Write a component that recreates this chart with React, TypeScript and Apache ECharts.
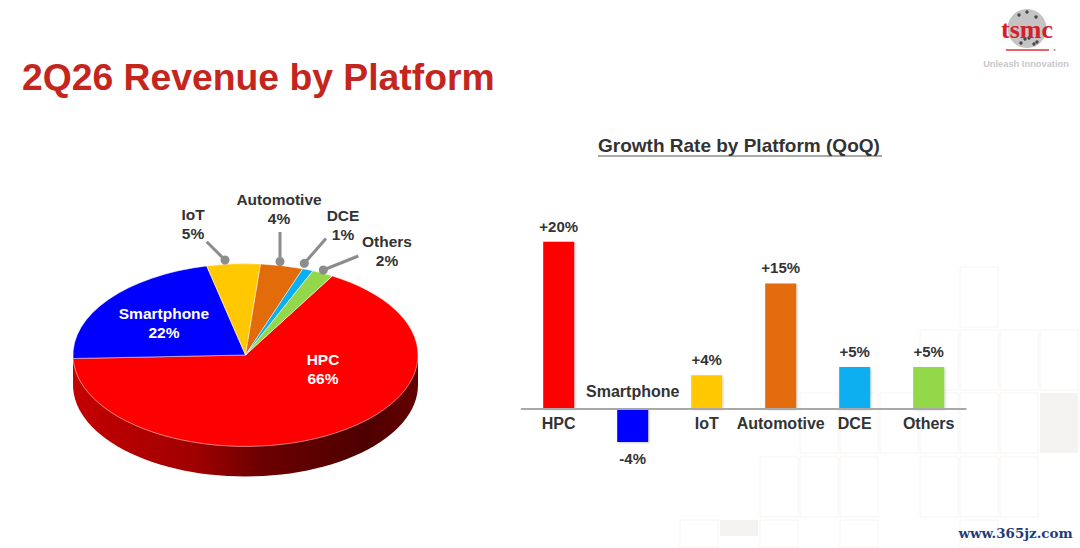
import React, { useEffect, useRef } from "react";
import * as echarts from "echarts";

const FONT = '"Liberation Sans", Arial, sans-serif';
const categories = ["HPC", "Smartphone", "IoT", "Automotive", "DCE", "Others"];
const revenueShare = [66, 22, 5, 4, 1, 2];
const growthRate = [20, -4, 4, 15, 5, 5];
const colors = ["#ff0000", "#0000ff", "#ffc800", "#e36c0a", "#0aaff0", "#92d84a"];

// Pie label layout: [centre x, y of the name line]
const labelAnchors = [
  [323, 359],
  [164, 313],
  [193, 214],
  [279, 199],
  [343, 215],
  [387, 241],
];
// Leader lines: [x1, y1, x2, y2], ending in a dot at (x2, y2)
const leaders: (number[] | null)[] = [
  null,
  null,
  [206.7, 241.7, 225, 260],
  [280, 232, 280, 261.5],
  [326, 238.5, 304.3, 263.3],
  [358.3, 256, 323.3, 270],
];

const PIE = { cx: 245.5, cy: 355, rx: 172.5, ry: 91.5, depth: 30, startDeg: 30.2 };

// Decorative background tiles: [y, height, x positions]
const tileRows: [number, number, number[]][] = [
  [267, 60, [960]],
  [330, 60, [920, 960, 1000, 1040]],
  [393, 60, [800, 840, 880, 920, 960, 1000]],
  [457, 60, [760, 800, 840, 920, 960, 1000]],
  [520, 28, [680, 760, 840, 960]],
];

function buildTiles(): any[] {
  const out: any[] = [];
  tileRows.forEach(([y, h, xs]) =>
    xs.forEach((x) =>
      out.push({
        type: "rect",
        z: 0,
        shape: { x, y, width: 38, height: h },
        style: { fill: "#ffffff", stroke: "#f7f5f3", lineWidth: 1 },
      })
    )
  );
  out.push({ type: "rect", z: 0, shape: { x: 1040, y: 393, width: 38, height: 60 }, style: { fill: "#f5f3f1" } });
  out.push({ type: "rect", z: 0, shape: { x: 720, y: 520, width: 38, height: 16 }, style: { fill: "#f5f3f1" } });
  return out;
}

const logoDots = [
  [1019, 15], [1027, 12], [1036, 17], [1021, 43], [1025, 39], [1029, 38], [1037, 42], [1034, 44],
];

function buildLogo(): any[] {
  return [
    { type: "circle", z: 1, shape: { cx: 1027, cy: 28.5, r: 19.5 }, style: { fill: "#c4c4c4" } },
    ...logoDots.map(([cx, cy]) => ({
      type: "circle",
      z: 1,
      shape: { cx, cy, r: 1.7 },
      style: { fill: "#4a4a4a" },
    })),
    {
      type: "text",
      z: 2,
      x: 1027,
      y: 29,
      style: {
        text: "tsmc",
        font: 'bold 26px "Liberation Serif", serif',
        fill: "#d3202a",
        align: "center",
        verticalAlign: "middle",
      },
    },
    { type: "line", z: 2, shape: { x1: 1006, y1: 50, x2: 1049, y2: 50 }, style: { stroke: "#e0303a", lineWidth: 1.5 } },
    { type: "circle", z: 2, shape: { cx: 1054.5, cy: 50, r: 1 }, style: { fill: "#999" } },
    {
      type: "text",
      z: 2,
      x: 1026,
      y: 64,
      style: {
        text: "Unleash Innovation",
        font: `bold 9.3px ${FONT}`,
        fill: "#c8c8c8",
        align: "center",
        verticalAlign: "middle",
      },
    },
    {
      type: "text",
      z: 2,
      x: 1015.5,
      y: 533,
      style: {
        text: "www.365jz.com",
        font: 'bold 13.4px "DejaVu Serif", serif',
        fill: "#1f3c7a",
        align: "center",
        verticalAlign: "middle",
      },
    },
  ];
}

const total = revenueShare.reduce((a, b) => a + b, 0);

function renderSlice(params: any, api: any) {
  const i = params.dataIndex;
  const before = revenueShare.slice(0, i).reduce((a, b) => a + b, 0);
  const a0 = PIE.startDeg + (before / total) * 360;
  const a1 = a0 + (api.value(0) / total) * 360;
  const toRad = (d: number) => ((d - 90) * Math.PI) / 180;
  const children: any[] = [];

  if (i === 0) {
    // Extruded rim: lower half of the ellipse, pushed down by the pie's depth
    const pts: number[][] = [[PIE.cx - PIE.rx, PIE.cy]];
    for (let d = 0; d <= 180; d += 3) {
      const t = (d * Math.PI) / 180;
      pts.push([PIE.cx - PIE.rx * Math.cos(t), PIE.cy + PIE.depth + PIE.ry * Math.sin(t)]);
    }
    pts.push([PIE.cx + PIE.rx, PIE.cy]);
    children.push({
      type: "polygon",
      shape: { points: pts },
      style: {
        fill: new echarts.graphic.LinearGradient(0, 0, 1, 0, [
          { offset: 0, color: "#c40000" },
          { offset: 0.35, color: "#a00000" },
          { offset: 0.55, color: "#6c0000" },
          { offset: 0.85, color: "#4e0000" },
          { offset: 1, color: "#640000" },
        ]),
      },
    });
  }

  children.push({
    type: "sector",
    x: PIE.cx,
    y: PIE.cy,
    scaleY: PIE.ry / PIE.rx,
    shape: { cx: 0, cy: 0, r: PIE.rx, r0: 0, startAngle: toRad(a0), endAngle: toRad(a1), clockwise: true },
    style: { fill: colors[i], stroke: "rgba(255,255,255,0.65)", lineWidth: 1 },
  });
  return { type: "group", children };
}

function renderLabel(params: any, api: any) {
  const i = params.dataIndex;
  const [x, y] = labelAnchors[i];
  const fill = i < 2 ? "#ffffff" : "#333333";
  const textStyle = (text: string) => ({
    text,
    fill,
    font: `bold 15.5px ${FONT}`,
    align: "center",
    verticalAlign: "middle",
  });
  const children: any[] = [
    { type: "text", x, y, style: textStyle(categories[i]) },
    { type: "text", x, y: y + 19, style: textStyle(`${api.value(0)}%`) },
  ];
  const l = leaders[i];
  if (l) {
    children.push({
      type: "line",
      shape: { x1: l[0], y1: l[1], x2: l[2], y2: l[3] },
      style: { stroke: "#8c8c8c", lineWidth: 3 },
    });
    children.push({
      type: "circle",
      shape: { cx: l[2], cy: l[3], r: 4.5 },
      style: { fill: "#8c8c8c" },
    });
  }
  return { type: "group", children };
}

const axisLabelData = categories.map((name, i) =>
  growthRate[i] < 0
    ? {
        value: name,
        textStyle: { verticalAlign: "bottom", padding: [0, 0, 16, 0] },
      }
    : { value: name }
);

export default function App() {
  const ref = useRef<HTMLDivElement>(null);

  useEffect(() => {
    const chart = echarts.init(ref.current!, null, { renderer: "svg" });
    chart.setOption({
      animation: false,
      backgroundColor: "#ffffff",
      title: [
        {
          text: "2Q26 Revenue by Platform",
          left: 17,
          top: 53,
          textStyle: { fontFamily: FONT, fontSize: 37.3, fontWeight: "bold", color: "#c4261d" },
        },
        {
          text: "Growth Rate by Platform (QoQ)",
          left: 593,
          top: 131,
          textStyle: { fontFamily: FONT, fontSize: 19, fontWeight: "bold", color: "#333333" },
        },
      ],
      graphic: [
        ...buildTiles(),
        ...buildLogo(),
        { type: "line", z: 2, shape: { x1: 598, y1: 156, x2: 882, y2: 156 }, style: { stroke: "#555555", lineWidth: 1 } },
      ],
      grid: { left: 521.7, width: 444, top: 208.3, height: 267.2 },
      xAxis: {
        type: "category",
        data: axisLabelData,
        axisTick: { show: false },
        axisLine: {
          onZero: true,
          lineStyle: { color: "#a8a8a8", width: 2 },
        },
        axisLabel: {
          interval: 0,
          margin: -59.8,
          fontFamily: FONT,
          fontSize: 16,
          fontWeight: "bold",
          color: "#333333",
        },
        z: 5,
      },
      yAxis: {
        type: "value",
        min: -8,
        max: 24,
        interval: 8,
        axisLine: { show: false },
        axisTick: { show: false },
        axisLabel: { show: false },
        splitLine: { show: false },
      },
      series: [
        {
          type: "bar",
          barWidth: 31,
          data: growthRate.map((value, i) => ({
            value,
            itemStyle: { color: colors[i] },
            label: { position: value < 0 ? "bottom" : "top", distance: value < 0 ? 9 : 8 },
          })),
          itemStyle: { shadowColor: "rgba(0,0,0,0.2)", shadowBlur: 2, shadowOffsetX: 1, shadowOffsetY: 1 },
          label: {
            show: true,
            fontFamily: FONT,
            fontSize: 15,
            fontWeight: "bold",
            color: "#333333",
            formatter: (p: any) => `${p.value > 0 ? "+" : ""}${p.value}%`,
          },
        },
        {
          type: "custom",
          coordinateSystem: "none",
          renderItem: renderSlice,
          data: revenueShare.map((v) => [v]),
          z: 3,
          silent: true,
        },
        {
          type: "custom",
          coordinateSystem: "none",
          renderItem: renderLabel,
          data: revenueShare.map((v) => [v]),
          z: 4,
          silent: true,
        },
      ],
    });
    return () => chart.dispose();
  }, []);

  return (
    <div
      ref={ref}
      style={{ position: "absolute", left: 0, top: 0, width: 1080, height: 548 }}
    />
  );
}
